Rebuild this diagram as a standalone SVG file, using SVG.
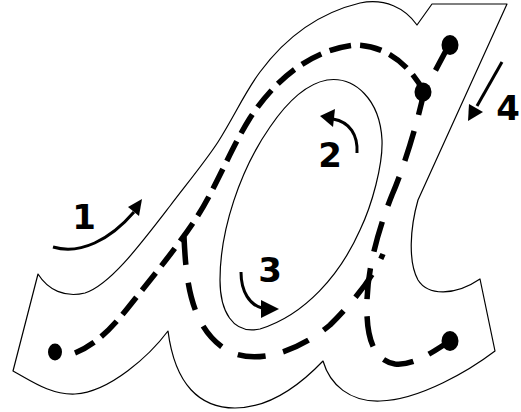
<svg xmlns="http://www.w3.org/2000/svg" width="521" height="412" viewBox="0 0 521 412">
<style>
.outline{fill:none;stroke:#000;stroke-width:1.2;stroke-linejoin:round}
.path{fill:none;stroke:#000;stroke-width:5.5;stroke-linecap:butt}
.dot{fill:#000}
.arr{fill:none;stroke:#000;stroke-width:3}
.head{fill:#000}
.lbl{font-family:"DejaVu Sans",sans-serif;font-weight:bold;font-size:34px;fill:#000;text-anchor:middle}
</style>
<rect width="521" height="412" fill="#fff"/>
<g id="letter">
<path class="outline" d="M38,274 C48,290 65,298 85,293 C110,285 140,245 170,206 C185,186 205,162 218,142 C235,115 245,92 260,72 C280,45 310,15 360,3 C385,-2 405,8 417,25 L432,4 L507,4 L418,200 C410,228 408,262 418,280 C428,296 455,296 480,279 L495,351 C470,370 420,400 380,401 C350,402 330,385 323,361 C300,385 270,408 235,408 C200,408 175,385 168,331 C150,355 110,392 75,394 C50,395 30,380 13,371 Z"/>
<path class="outline" d="M327,80 C355,76 380,100 382,140 C383,165 372,205 360,230 C340,275 305,315 260,329 C232,335 220,310 220,280 C220,230 240,170 270,127 C285,105 305,84 327,80 Z"/>
</g>
<g id="connectors">
<path id="stroke1" class="path" stroke-dasharray="22 9" d="M75,353 C95,345 110,330 127,309 C150,280 175,250 195,220 C215,190 230,150 250,118 C275,80 310,50 355,45 C385,45 410,65 424,92"/>
<path id="stroke23" class="path" stroke-dasharray="28 18" d="M184,237 C186,280 190,330 230,352 C260,365 300,350 330,325 C350,305 372,280 383,254"/>
<path id="stroke4" class="path" stroke-dasharray="31 17" d="M450,43 L424,92 C418,120 405,165 392,195 C380,225 368,265 367,300 C366,330 370,360 395,364 C415,366 435,350 450,341"/>
</g>
<g id="dots">
<ellipse class="dot" cx="55" cy="352" rx="7" ry="8.5"/>
<ellipse class="dot" cx="450" cy="45" rx="8.5" ry="10"/>
<ellipse class="dot" cx="423" cy="92" rx="8.5" ry="9.5"/>
<ellipse class="dot" cx="450" cy="341" rx="8.5" ry="10"/>
</g>
<g id="arrow1">
<path class="arr" d="M53,247 C80,255 110,240 134,212"/>
<polygon class="head" points="142,199 128,207 139,216"/>
<text class="lbl" x="84" y="229">1</text>
</g>
<g id="arrow2">
<path class="arr" d="M357,153 C358,135 350,122 333,119"/>
<polygon class="head" points="320,116 335,109 333,127"/>
<text class="lbl" x="330" y="167">2</text>
</g>
<g id="arrow3">
<path class="arr" d="M241,272 C241,292 250,305 262,308"/>
<polygon class="head" points="279,309 261,300 261,318"/>
<text class="lbl" x="270" y="282">3</text>
</g>
<g id="arrow4">
<path class="arr" d="M502,62 L477,106"/>
<polygon class="head" points="468,121 469,104 483,112"/>
<text class="lbl" x="508" y="120">4</text>
</g>
</svg>
